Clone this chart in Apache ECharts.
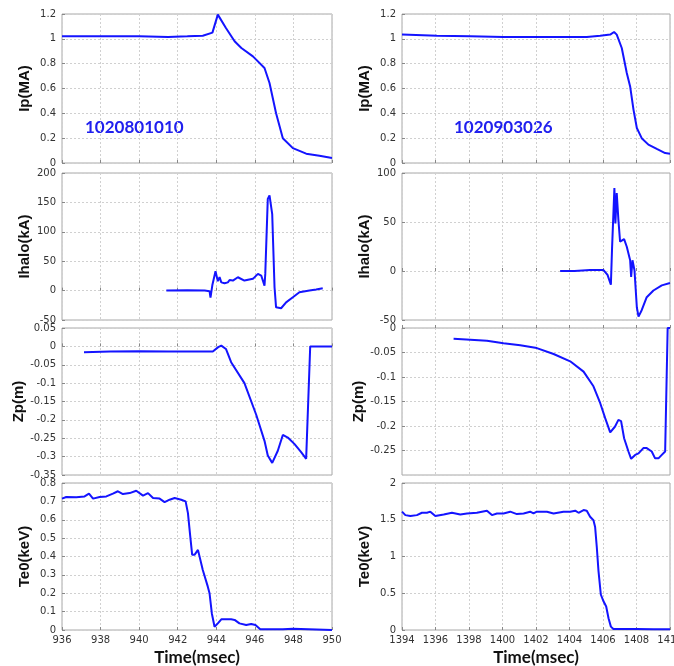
<!DOCTYPE html>
<html>
<head>
<meta charset="utf-8">
<script src="https://cdn.jsdelivr.net/npm/echarts@6/dist/echarts.min.js"></script>
<style>
  html, body { margin: 0; background: #fff; }
  #chart { width: 674px; height: 666px; }
</style>
</head>
<body>
<div id="chart"></div>
<script>
  // shot 1020801010
  const ip1 = [[936,1.02],[938,1.02],[940,1.02],[941.5,1.015],[942.5,1.02],[943.3,1.025],[943.8,1.05],[944.08,1.195],[944.5,1.087],[944.95,0.98],[945.3,0.926],[945.9,0.859],[946.5,0.765],[946.76,0.644],[947.1,0.40],[947.45,0.20],[947.97,0.12],[948.66,0.075],[949.35,0.059],[950,0.04]];
  const halo1 = [[941.41,0],[942.5,0.5],[943.4,0],[943.65,-1],[943.7,-12],[943.8,10],[943.96,33],[944.08,16],[944.17,23],[944.26,14],[944.43,12.5],[944.6,14],[944.69,18],[944.86,17],[945.12,22.7],[945.2,20],[945.46,17],[945.9,20],[946.16,28.4],[946.33,25.6],[946.41,28.4],[946.5,8.5],[946.54,28.4],[946.67,156],[946.76,162],[946.9,130],[947.02,5.7],[947.1,-28.4],[947.36,-30],[947.62,-20],[947.97,-11.4],[948.31,-2.8],[948.83,0],[949.18,1.7],[949.52,4]];
  const zp1 = [[937.14,-0.016],[938.5,-0.014],[940,-0.013],[941.5,-0.014],[943,-0.014],[943.82,-0.014],[944.1,-0.002],[944.26,0.002],[944.5,-0.007],[944.77,-0.043],[945.46,-0.10],[946.07,-0.186],[946.5,-0.257],[946.67,-0.297],[946.9,-0.317],[947.19,-0.284],[947.45,-0.241],[947.71,-0.248],[948.06,-0.266],[948.4,-0.288],[948.66,-0.306],[948.87,0],[950,0]];
  const te1 = [[936,0.715],[936.22,0.724],[936.74,0.722],[937.17,0.727],[937.4,0.742],[937.61,0.715],[937.95,0.724],[938.3,0.727],[938.64,0.742],[938.9,0.755],[939.16,0.74],[939.51,0.745],[939.85,0.758],[940.2,0.731],[940.46,0.745],[940.72,0.718],[941.06,0.715],[941.32,0.696],[941.58,0.709],[941.84,0.718],[942.18,0.709],[942.41,0.7],[942.53,0.636],[942.65,0.509],[942.75,0.409],[942.87,0.409],[943.05,0.436],[943.13,0.427],[943.3,0.327],[943.56,0.236],[943.65,0.2],[943.77,0.09],[943.91,0.018],[944.08,0.036],[944.26,0.058],[944.77,0.058],[944.95,0.055],[945.2,0.036],[945.55,0.027],[945.81,0.033],[946.03,0.027],[946.28,0.004],[947.45,0.004],[947.97,0.007],[950,0]];

  // shot 1020903026
  const ip2 = [[1394,1.034],[1396.09,1.025],[1398.08,1.02],[1400.06,1.015],[1402.05,1.015],[1404.04,1.015],[1405.03,1.015],[1405.83,1.025],[1406.43,1.034],[1406.66,1.055],[1406.82,1.034],[1407.12,0.926],[1407.42,0.725],[1407.62,0.617],[1407.82,0.43],[1408.02,0.282],[1408.31,0.2],[1408.71,0.148],[1409.21,0.113],[1409.71,0.08],[1410,0.075]];
  const halo2 = [[1403.44,0],[1404.3,0],[1405.23,1],[1406.03,1],[1406.27,-4],[1406.47,-14],[1406.54,23],[1406.62,23],[1406.68,84.6],[1406.74,48.6],[1406.82,79.5],[1406.88,77.7],[1406.92,52],[1407.02,30],[1407.12,31.5],[1407.26,32.5],[1407.42,24.7],[1407.62,11],[1407.68,-6],[1407.76,11],[1407.82,11],[1407.88,0.7],[1408.02,-37],[1408.12,-46.6],[1408.31,-40],[1408.61,-26.7],[1409.01,-19.9],[1409.51,-14.7],[1410,-12.3]];
  const zp2 = [[1397.08,-0.022],[1398.08,-0.024],[1399.07,-0.026],[1400.06,-0.031],[1401.06,-0.035],[1402.05,-0.041],[1403.05,-0.053],[1404.04,-0.068],[1404.84,-0.089],[1405.43,-0.119],[1405.83,-0.153],[1406.13,-0.184],[1406.43,-0.213],[1406.72,-0.201],[1406.92,-0.1875],[1407.08,-0.19],[1407.26,-0.225],[1407.52,-0.252],[1407.68,-0.267],[1407.92,-0.259],[1408.12,-0.256],[1408.41,-0.245],[1408.61,-0.245],[1408.91,-0.252],[1409.11,-0.266],[1409.31,-0.266],[1409.51,-0.259],[1409.71,-0.252],[1409.86,0],[1410,0]];
  const te2 = [[1394,1.61],[1394.2,1.563],[1394.5,1.55],[1394.89,1.563],[1395.19,1.595],[1395.49,1.595],[1395.69,1.61],[1395.99,1.55],[1396.49,1.572],[1396.98,1.595],[1397.48,1.572],[1397.88,1.586],[1398.47,1.595],[1399.07,1.623],[1399.37,1.563],[1399.67,1.586],[1400.06,1.586],[1400.46,1.61],[1400.86,1.577],[1401.26,1.586],[1401.65,1.61],[1401.85,1.586],[1402.05,1.61],[1402.65,1.61],[1403.05,1.586],[1403.64,1.61],[1404.04,1.61],[1404.34,1.623],[1404.54,1.595],[1404.84,1.632],[1405.03,1.623],[1405.23,1.54],[1405.43,1.494],[1405.53,1.40],[1405.63,1.126],[1405.73,0.805],[1405.87,0.483],[1406.03,0.39],[1406.19,0.32],[1406.33,0.16],[1406.47,0.046],[1406.62,0.014],[1407.02,0.014],[1408.02,0.014],[1409.01,0.01],[1410,0.01]];

  const shots = ['1020801010', '1020903026'];
  const yNames = ['Ip(MA)', 'Ihalo(kA)', 'Zp(m)', 'Te0(keV)'];
  const xRange = [[936, 950], [1394, 1410]];
  const yRange = [
    [[0, 1.2, 0.2], [-50, 200, 50], [-0.35, 0.05, 0.05], [0, 0.8, 0.1]],
    [[0, 1.2, 0.2], [-50, 100, 50], [-0.3, 0, 0.05], [0, 2, 0.5]],
  ];
  const seriesData = [[ip1, halo1, zp1, te1], [ip2, halo2, zp2, te2]];

  const rows = [[14, 149], [173, 147], [328, 147], [483, 147]];
  const cols = [[62, 270], [402, 268]];

  const chart = echarts.init(document.getElementById('chart'));
  const grid = [], xAxis = [], yAxis = [], series = [];
  const plain = (v) => String(v);

  for (let c = 0; c < 2; c++) {
    for (let r = 0; r < 4; r++) {
      const i = grid.length;
      const bottom = r === 3;
      grid.push({
        left: cols[c][0], width: cols[c][1], top: rows[r][0], height: rows[r][1],
        outerBoundsMode: 'none', containLabel: false,
        show: true, borderColor: '#a8a8a8', borderWidth: 1, backgroundColor: 'transparent',
      });
      xAxis.push({
        gridIndex: i,
        type: 'value',
        min: xRange[c][0],
        max: xRange[c][1],
        interval: 2,
        name: bottom ? 'Time(msec)' : '',
        nameLocation: 'middle',
        nameGap: 19,
        nameTextStyle: {fontFamily: 'Lato', fontWeight: 'bold', fontSize: 17, color: '#111'},
        axisLine: {show: false},
        axisTick: {show: true, inside: true, length: 3, lineStyle: {color: '#888'}},
        axisLabel: {show: bottom, fontSize: 10, color: '#333', margin: 5, fontFamily: 'DejaVu Sans', formatter: plain},
        splitLine: {show: true, lineStyle: {color: '#d0d0d0', type: [2, 2]}},
      });
      const yr = yRange[c][r];
      yAxis.push({
        gridIndex: i,
        type: 'value',
        min: yr[0],
        max: yr[1],
        interval: yr[2],
        name: yNames[r],
        nameLocation: 'middle',
        nameGap: 30,
        nameRotate: 90,
        nameTextStyle: {fontFamily: 'Liberation Sans', fontWeight: 'bold', fontSize: 15, color: '#111'},
        axisLine: {show: false},
        axisTick: {show: true, inside: true, length: 3, lineStyle: {color: '#888'}},
        axisLabel: {
          fontSize: 10, color: '#333', margin: 6, fontFamily: 'DejaVu Sans', formatter: plain,
          showMinLabel: !(c === 1 && r === 2),
        },
        splitLine: {show: true, lineStyle: {color: '#d0d0d0', type: [2, 2]}},
      });
      series.push({
        type: 'line',
        xAxisIndex: i,
        yAxisIndex: i,
        data: seriesData[c][r],
        showSymbol: false,
        lineStyle: {color: '#1414ff', width: 2},
        animation: false,
      });
    }
  }

  chart.setOption({
    animation: false,
    grid, xAxis, yAxis, series,
    graphic: shots.map((s, c) => ({
      type: 'text',
      left: c === 0 ? 85 : 454,
      top: 119,
      style: {text: s, fontFamily: 'Lato', fontWeight: 'bold', fontSize: 17, fill: '#2020ee'},
    })),
  });
</script>
</body>
</html>
